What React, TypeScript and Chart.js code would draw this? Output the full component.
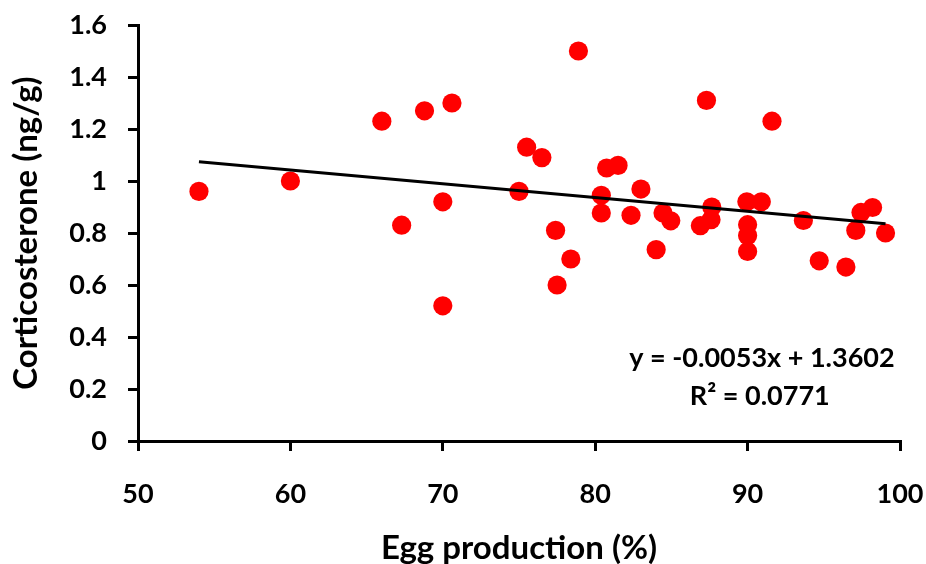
import React, { useEffect, useRef } from "react";
import { Chart, registerables } from "chart.js";

Chart.register(...registerables);

const eggProduction: number[] = [
  54.0, 60.0, 66.0, 67.3, 68.8, 70.0, 70.0, 70.6, 75.0, 75.5, 76.5, 77.4, 77.5, 78.4,
  78.9, 80.4, 80.4, 80.75, 81.5, 82.35, 83.0, 84.0, 84.45, 84.96, 86.9, 87.3, 87.6, 87.65,
  89.95, 90.9, 90.0, 90.0, 90.0, 91.6, 93.66, 94.7, 96.45, 97.1, 97.44, 98.2, 99.05,
];
const corticosterone: number[] = [
  0.96, 1.0, 1.23, 0.83, 1.27, 0.92, 0.52, 1.3, 0.96, 1.13, 1.09, 0.81, 0.6, 0.7,
  1.5, 0.945, 0.877, 1.05, 1.06, 0.868, 0.969, 0.736, 0.877, 0.847, 0.828, 1.31, 0.851, 0.9,
  0.92, 0.92, 0.832, 0.79, 0.729, 1.23, 0.848, 0.693, 0.669, 0.81, 0.879, 0.898, 0.8,
];

const trendSlope = -0.0053;
const trendIntercept = 1.3602;
const equationLines: string[] = ["y = -0.0053x + 1.3602", "R\u00B2 = 0.0771"];

const xTitle = "Egg production (%)";
const yTitle = "Corticosterone (ng/g)";

const FONT = "Lato, 'Open Sans', sans-serif";

export default function App() {
  const canvasRef = useRef<HTMLCanvasElement | null>(null);

  useEffect(() => {
    document.body.style.margin = "0";
    const canvas = canvasRef.current;
    if (!canvas) return;

    const xMin = Math.min(...eggProduction);
    const xMax = Math.max(...eggProduction);
    const trend = [
      { x: xMin, y: trendSlope * xMin + trendIntercept },
      { x: xMax, y: trendSlope * xMax + trendIntercept },
    ];
    const points = eggProduction.map((x, i) => ({ x, y: corticosterone[i] }));

    const equationPlugin = {
      id: "equation",
      afterDatasetsDraw(chart: any) {
        const { ctx, scales } = chart;
        const xs = scales.x;
        const ys = scales.y;
        ctx.save();
        ctx.fillStyle = "#000";
        ctx.textAlign = "center";
        ctx.textBaseline = "alphabetic";
        ctx.font = `bold 27px ${FONT}`;
        ctx.fillText(equationLines[0], xs.getPixelForValue(90.94), ys.getPixelForValue(0.286));
        ctx.fillText(equationLines[1], xs.getPixelForValue(90.8), ys.getPixelForValue(0.14));
        ctx.restore();
      },
    };

    const chart = new Chart(canvas, {
      type: "scatter",
      data: {
        datasets: [
          {
            type: "line",
            data: trend,
            borderColor: "#000",
            borderWidth: 3,
            pointRadius: 0,
            fill: false,
            order: 0,
          } as any,
          {
            type: "scatter",
            data: points,
            backgroundColor: "#FF0000",
            borderWidth: 0,
            pointRadius: 9.6,
            pointHoverRadius: 9.6,
            order: 1,
          },
        ],
      },
      options: {
        responsive: false,
        animation: false,
        devicePixelRatio: 1,
        layout: { padding: { top: 25, right: 26, left: 0, bottom: 0 } },
        plugins: { legend: { display: false }, tooltip: { enabled: false } },
        scales: {
          x: {
            type: "linear",
            min: 50,
            max: 100,
            ticks: {
              stepSize: 10,
              color: "#000",
              font: { family: FONT, size: 27, weight: "bold" },
              padding: 27,
            },
            grid: {
              drawOnChartArea: false,
              drawTicks: true,
              tickLength: 10,
              color: "#000",
              lineWidth: 3,
            },
            border: { display: true, color: "#000", width: 3 },
            title: {
              display: true,
              text: xTitle,
              color: "#000",
              font: { family: FONT, size: 33, weight: "bold", lineHeight: 1 },
              padding: { top: 0, bottom: -1 },
            },
            afterFit: (scale: any) => {
              scale.height = 123;
              scale.paddingLeft = 0;
              scale.paddingRight = 0;
            },
          },
          y: {
            type: "linear",
            min: 0,
            max: 1.6,
            ticks: {
              stepSize: 0.2,
              color: "#000",
              font: { family: FONT, size: 27, weight: "bold" },
              padding: 21,
              callback: (v: any) => String(Number(Number(v).toFixed(1))),
            },
            grid: {
              drawOnChartArea: false,
              drawTicks: true,
              tickLength: 10,
              color: "#000",
              lineWidth: 3,
            },
            border: { display: true, color: "#000", width: 3 },
            title: {
              display: true,
              text: yTitle,
              color: "#000",
              font: { family: FONT, size: 33, weight: "bold", lineHeight: 1 },
              padding: { top: 10, bottom: 0 },
            },
            afterFit: (scale: any) => {
              scale.width = 138;
              scale.paddingTop = 0;
              scale.paddingBottom = 0;
            },
          },
        },
      },
      plugins: [equationPlugin],
    });

    return () => chart.destroy();
  }, []);

  return (
    <div style={{ width: 926, height: 564, position: "relative" }}>
      <canvas ref={canvasRef} width={926} height={564} style={{ display: "block" }} />
    </div>
  );
}
